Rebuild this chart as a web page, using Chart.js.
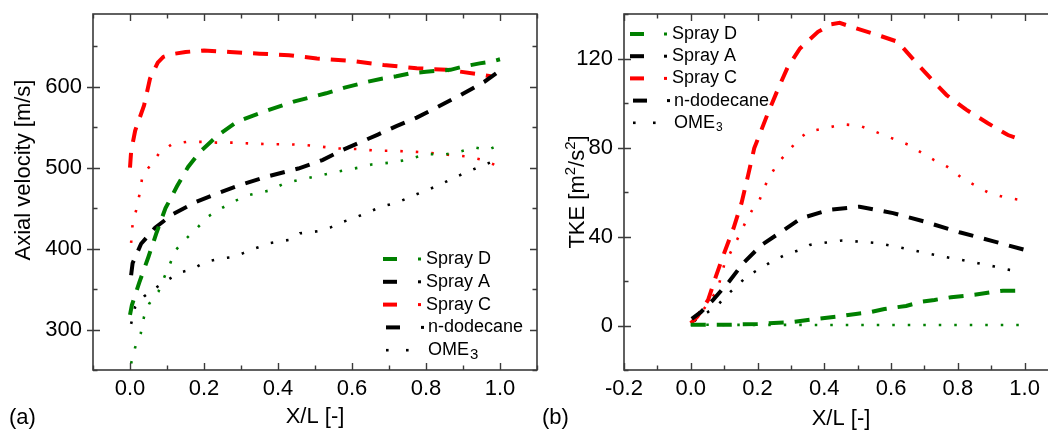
<!DOCTYPE html>
<html><head><meta charset="utf-8">
<script src="https://cdn.jsdelivr.net/npm/chart.js@4/dist/chart.umd.min.js"></script>
<style>
html,body{margin:0;padding:0;background:#fff;overflow:hidden;width:1048px;height:432px;position:relative;}
#wrapA{position:absolute;left:0;top:0;width:545px;height:432px;}
#wrapB{position:absolute;left:540px;top:0;width:540px;height:432px;}
</style></head><body>
<div id="wrapA"><canvas id="cA" width="545" height="432"></canvas></div>
<div id="wrapB"><canvas id="cB" width="540" height="432"></canvas></div>
<script>
// ---------- Panel (a): axial velocity ----------
const a_xTicks = [0, 0.2, 0.4, 0.6, 0.8, 1.0];
const a_yTicks = [300, 400, 500, 600];

const a_C_dod_x = [0, 0.003, 0.014, 0.038, 0.054, 0.075, 0.09, 0.108, 0.15, 0.2, 0.27, 0.35, 0.43, 0.505, 0.6, 0.685, 0.775, 0.856, 0.937, 0.975];
const a_C_dod_y = [500, 520, 546, 577, 610, 630, 637, 640, 643, 645, 643, 641, 639, 635, 632, 627, 623, 621, 616, 613];

const a_D_dod_x = [0, 0.005, 0.025, 0.05, 0.072, 0.096, 0.127, 0.157, 0.19, 0.24, 0.29, 0.36, 0.445, 0.53, 0.58, 0.64, 0.68, 0.72, 0.76, 0.8, 0.835, 0.866, 0.9, 0.945, 0.975, 1.0];
const a_D_dod_y = [318, 330, 358, 390, 420, 450, 477, 501, 520, 541, 557, 569, 582, 592, 599, 606, 610, 613, 617, 618.5, 620, 621, 625, 629, 631, 634];

const a_A_dod_x = [0.003, 0.007, 0.03, 0.068, 0.117, 0.18, 0.24, 0.3, 0.37, 0.455, 0.52, 0.575, 0.625, 0.67, 0.72, 0.775, 0.835, 0.894, 0.957, 1.0];
const a_A_dod_y = [367, 382, 406, 426, 443, 458, 469, 479, 489, 499, 509.5, 522, 532, 541, 551.5, 562, 576, 590, 606, 620];

const a_C_ome_x = [0.003, 0.007, 0.018, 0.027, 0.034, 0.059, 0.079, 0.113, 0.153, 0.194, 0.234, 0.279, 0.324, 0.377, 0.428, 0.473, 0.518, 0.554, 0.617, 0.667, 0.707, 0.761, 0.808, 0.86, 0.907, 0.95, 0.989];
const a_C_ome_y = [407, 430, 450, 470, 491, 505, 518, 529, 532, 532, 531, 531, 530, 529, 529, 528, 526, 524, 523, 521, 521, 520, 518.5, 516, 514, 510, 503];

const a_D_ome_x = [0.003, 0.014, 0.029, 0.038, 0.052, 0.077, 0.092, 0.108, 0.123, 0.149, 0.178, 0.212, 0.248, 0.279, 0.32, 0.378, 0.419, 0.459, 0.509, 0.559, 0.617, 0.653, 0.698, 0.752, 0.802, 0.847, 0.892, 0.932, 0.968, 0.991];
const a_D_ome_y = [258, 278, 295, 316, 332, 347, 364, 381, 398, 411, 424, 440, 450, 458, 466, 472, 481, 485, 490, 495, 500, 504, 506, 510, 517, 516, 520, 525, 522, 527];

const a_A_ome_x = [0.003, 0.014, 0.038, 0.068, 0.099, 0.135, 0.169, 0.194, 0.218, 0.248, 0.279, 0.306, 0.333, 0.36, 0.38, 0.405, 0.432, 0.459, 0.486, 0.514, 0.541, 0.568, 0.604, 0.641, 0.68, 0.723, 0.757, 0.795, 0.833, 0.869, 0.907, 0.944, 0.982];
const a_A_ome_y = [307, 328, 341, 351, 360.5, 370.5, 374.5, 381, 385, 388, 389.5, 394.5, 399.5, 403.5, 407, 409, 411, 419, 420, 422, 426, 432, 437.5, 444.5, 452, 457, 464, 471, 478, 486, 494, 501, 508];

// ---------- Panel (b): TKE ----------
const b_xTicks = [-0.2, 0, 0.2, 0.4, 0.6, 0.8, 1.0];
const b_yTicks = [0, 40, 80, 120];

const b_C_dod_x = [0.0, 0.02, 0.052, 0.075, 0.1, 0.128, 0.152, 0.172, 0.19, 0.23, 0.26, 0.29, 0.327, 0.381, 0.421, 0.446, 0.496, 0.571, 0.62, 0.67, 0.716, 0.766, 0.825, 0.89, 0.95, 0.97];
const b_C_dod_y = [1, 4, 11.5, 22, 32.5, 43.7, 55, 67.7, 79.6, 95, 105.8, 116, 124.5, 132, 135.4, 136, 133.5, 130, 127.5, 119, 111.5, 103.6, 97, 90.9, 85.6, 84.5];

const b_A_dod_x = [0.003, 0.03, 0.067, 0.115, 0.157, 0.212, 0.272, 0.331, 0.416, 0.506, 0.606, 0.7, 0.805, 0.91, 1.0];
const b_A_dod_y = [3, 6, 11.5, 19.8, 28, 36.2, 42.2, 48.2, 52, 53.4, 50.5, 46.7, 41.9, 37.7, 34];

const b_D_dod_x = [0, 0.1, 0.2, 0.3, 0.375, 0.44, 0.5, 0.53, 0.58, 0.645, 0.695, 0.73, 0.78, 0.85, 0.9, 0.935, 0.985, 1.0];
const b_D_dod_y = [0.3, 0.3, 0.7, 1.5, 2.9, 4, 5.3, 5.8, 7.4, 8.8, 10.8, 11.5, 12.7, 13.8, 15, 15.6, 15.7, 15.8];

const b_C_ome_x = [0.01, 0.027, 0.08, 0.1, 0.145, 0.165, 0.185, 0.205, 0.221, 0.242, 0.264, 0.291, 0.321, 0.351, 0.401, 0.456, 0.506, 0.548, 0.591, 0.611, 0.654, 0.691, 0.728, 0.768, 0.8, 0.815, 0.853, 0.892, 0.94, 0.988];
const b_C_ome_y = [2, 4.8, 16, 27.2, 40.4, 46.7, 52.2, 56, 62.4, 68.4, 73.6, 78.1, 83.4, 87.1, 88.6, 90.4, 89.8, 87.4, 84.8, 83.7, 81.1, 77.7, 74.4, 71.4, 67.7, 65.9, 62.9, 59.7, 57.6, 56.4];

const b_A_ome_x = [0.01, 0.04, 0.077, 0.107, 0.142, 0.167, 0.205, 0.242, 0.282, 0.327, 0.356, 0.406, 0.454, 0.506, 0.561, 0.611, 0.66, 0.706, 0.756, 0.81, 0.86, 0.91, 0.955, 0.995];
const b_A_ome_y = [2, 5, 8.5, 13.5, 18.3, 22, 25.4, 28.7, 31.7, 34, 36.2, 37.3, 38.2, 37.7, 37, 35.5, 34, 32.5, 31, 29.5, 28, 26.5, 25, 24.2];

const b_D_ome_x = [0, 0.1, 0.2, 0.3, 0.4, 0.5, 0.6, 0.7, 0.8, 0.9, 1.0];
const b_D_ome_y = [0.4, 0.3, 0.3, 0.3, 0.2, 0.2, 0.2, 0.2, 0.2, 0.2, 0.2];

// legend
const legendNames = ['Spray D', 'Spray A', 'Spray C', 'n-dodecane', 'OME'];
const legendSub = ['', '', '', '', '3'];

// ---------- styling ----------
const FONT = '"Liberation Sans", Arial, sans-serif';
const GREEN = '#008000', RED = '#ff0000', BLACK = '#000000';
const legendColors = [GREEN, BLACK, RED, BLACK, BLACK];
const DASH = [15, 11], DOT = [2.5, 13];

function pts(xs, ys) { return xs.map((x, i) => ({x: x, y: ys[i]})); }
function ds(label, xs, ys, color, dotted) {
  return {
    label: label, data: pts(xs, ys), showLine: true, pointRadius: 0,
    borderColor: color, backgroundColor: color,
    borderWidth: dotted ? 2.6 : 4, borderDash: dotted ? DOT : DASH,
    borderCapStyle: 'butt', tension: 0, fill: false
  };
}

// draws a run of [text, isSuperscript] pieces centred at 0,0 on current transform
function drawRich(ctx, pieces, big, small, rise) {
  let total = 0;
  const widths = pieces.map(p => {
    ctx.font = (p[1] ? small : big) + 'px ' + FONT;
    const w = ctx.measureText(p[0]).width; total += w; return w;
  });
  let x = -total / 2;
  ctx.textAlign = 'left';
  pieces.forEach((p, i) => {
    ctx.font = (p[1] ? small : big) + 'px ' + FONT;
    ctx.fillText(p[0], x, p[1] ? -rise : 0);
    x += widths[i];
  });
}

const framePlugin = {
  id: 'frameTicks',
  afterDraw(chart, args, o) {
    const ctx = chart.ctx, a = chart.chartArea, xs = chart.scales.x, ys = chart.scales.y;
    ctx.save();
    ctx.strokeStyle = '#3a3a3a';
    ctx.lineWidth = 1.6;
    ctx.strokeRect(a.left, a.top, a.right - a.left, a.bottom - a.top);
    ctx.lineWidth = 1.4;
    ctx.beginPath();
    const xStep = o.xMajor[1] - o.xMajor[0];
    for (let v = o.xMajor[0] - xStep; v <= xs.max + 1e-9; v += xStep / 2) {
      if (v < xs.min - 1e-9) continue;
      const p = Math.round(xs.getPixelForValue(v)) + 0.5;
      const major = o.xMajor.some(m => Math.abs(m - v) < 1e-6);
      const L = major ? 7 : 4.5;
      ctx.moveTo(p, a.bottom); ctx.lineTo(p, a.bottom - L);
      ctx.moveTo(p, a.top); ctx.lineTo(p, a.top + L);
    }
    const yStep = o.yMajor[1] - o.yMajor[0];
    for (let v = o.yMajor[0] - yStep; v <= ys.max + 1e-9; v += yStep / 2) {
      if (v < ys.min - 1e-9) continue;
      const p = Math.round(ys.getPixelForValue(v)) + 0.5;
      const major = o.yMajor.some(m => Math.abs(m - v) < 1e-6);
      const L = major ? 7 : 4.5;
      ctx.moveTo(a.left - (major ? 6 : 0), p); ctx.lineTo(a.left + L, p);
      ctx.moveTo(a.right, p); ctx.lineTo(a.right - L, p);
    }
    ctx.stroke();

    ctx.fillStyle = '#000';
    ctx.font = '22px ' + FONT;
    ctx.textAlign = 'center'; ctx.textBaseline = 'middle';
    ctx.fillText(o.xTitle, (a.left + a.right) / 2, o.xTitleY);
    ctx.textAlign = 'left';
    ctx.fillText(o.panel, o.panelX, 418);
    ctx.save();
    ctx.translate(o.yTitleX, o.yTitleY);
    ctx.rotate(-Math.PI / 2);
    drawRich(ctx, o.yTitle, 22, 15, 7);
    ctx.restore();

    const L = o.legend;
    ctx.textAlign = 'left'; ctx.textBaseline = 'middle';
    for (let i = 0; i < legendNames.length; i++) {
      const y = L.y0 + i * L.dy;
      const c = legendColors[i];
      ctx.fillStyle = c;
      const sh = i === 3 ? 3 : 0;
      if (i < 4) {
        ctx.fillRect(L.x + sh, y - 2, 14, 4);
        ctx.fillRect(L.dotX + sh, y - 1.5, 3, 3);
      } else {
        ctx.fillRect(L.x + 3, y - 1.3, 2.6, 2.6);
        ctx.fillRect(L.x + 23, y - 1.3, 2.6, 2.6);
      }
      ctx.fillStyle = '#000';
      const tx = L.textX + (i >= 3 ? 2 : 0);
      ctx.font = '18px ' + FONT;
      ctx.fillText(legendNames[i], tx, y);
      if (legendSub[i]) {
        const w = ctx.measureText(legendNames[i]).width;
        ctx.font = L.subSize + 'px ' + FONT;
        ctx.fillText(legendSub[i], tx + w + 1, y + 5);
      }
    }
    ctx.restore();
  }
};

function makeChart(id, datasets, xr, yr, xTicks, yTicks, fmtX, pad, yWidth, o) {
  return new Chart(document.getElementById(id), {
    type: 'scatter',
    data: {datasets: datasets},
    plugins: [framePlugin],
    options: {
      responsive: false, animation: false, devicePixelRatio: 1,
      layout: {padding: pad},
      plugins: {legend: {display: false}, tooltip: {enabled: false}, frameTicks: o},
      scales: {
        x: {
          type: 'linear', min: xr[0], max: xr[1],
          grid: {display: false, drawTicks: false}, border: {display: false},
          afterBuildTicks: s => { s.ticks = xTicks.map(v => ({value: v})); },
          afterFit: s => { s.height = 62; s.paddingLeft = 0; s.paddingRight = 0; },
          ticks: {font: {size: 22, family: FONT}, color: '#000', padding: 6, maxRotation: 0, autoSkip: false,
                  callback: v => fmtX(v)}
        },
        y: {
          type: 'linear', min: yr[0], max: yr[1],
          grid: {display: false, drawTicks: false}, border: {display: false},
          afterBuildTicks: s => { s.ticks = yTicks.map(v => ({value: v})); },
          afterFit: s => { s.width = yWidth; s.paddingTop = 0; s.paddingBottom = 0; },
          ticks: {font: {size: 22, family: FONT}, color: '#000', padding: 11, autoSkip: false,
                  callback: v => String(v)}
        }
      }
    }
  });
}

const fmt1 = v => (Math.abs(v) < 1e-9 ? 0 : v).toFixed(1);

makeChart('cA', [
  ds('Spray D n-dodecane', a_D_dod_x, a_D_dod_y, GREEN, false),
  ds('Spray A n-dodecane', a_A_dod_x, a_A_dod_y, BLACK, false),
  ds('Spray C n-dodecane', a_C_dod_x, a_C_dod_y, RED, false),
  ds('Spray D OME3', a_D_ome_x, a_D_ome_y, GREEN, true),
  ds('Spray A OME3', a_A_ome_x, a_A_ome_y, BLACK, true),
  ds('Spray C OME3', a_C_ome_x, a_C_ome_y, RED, true)
], [-0.1, 1.1], [250, 690], a_xTicks, a_yTicks, fmt1,
  {left: 0, top: 14, right: 8, bottom: 0}, 93,
  {xMajor: a_xTicks, yMajor: a_yTicks, xTitle: 'X/L [-]', xTitleY: 417,
   yTitle: [['Axial velocity [m/s]', false]], yTitleX: 24, yTitleY: 170, panel: '(a)', panelX: 9,
   legend: {x: 383, dotX: 418, textX: 426, y0: 259, dy: 22.8, subSize: 15}});

makeChart('cB', [
  ds('Spray D n-dodecane', b_D_dod_x, b_D_dod_y, GREEN, false),
  ds('Spray A n-dodecane', b_A_dod_x, b_A_dod_y, BLACK, false),
  ds('Spray C n-dodecane', b_C_dod_x, b_C_dod_y, RED, false),
  ds('Spray D OME3', b_D_ome_x, b_D_ome_y, GREEN, true),
  ds('Spray A OME3', b_A_ome_x, b_A_ome_y, BLACK, true),
  ds('Spray C OME3', b_C_ome_x, b_C_ome_y, RED, true)
], [-0.2, 1.1], [-20, 140], b_xTicks, b_yTicks, fmt1,
  {left: 0, top: 14, right: 22, bottom: 0}, 84,
  {xMajor: b_xTicks, yMajor: b_yTicks, xTitle: 'X/L [-]', xTitleY: 419,
   yTitle: [['TKE [m', false], ['2', true], ['/s', false], ['2', true], [']', false]],
   yTitleX: 38, yTitleY: 192, panel: '(b)', panelX: 2,
   legend: {x: 90, dotX: 124, textX: 132, y0: 34, dy: 22.2, subSize: 12}});
</script>
</body></html>
